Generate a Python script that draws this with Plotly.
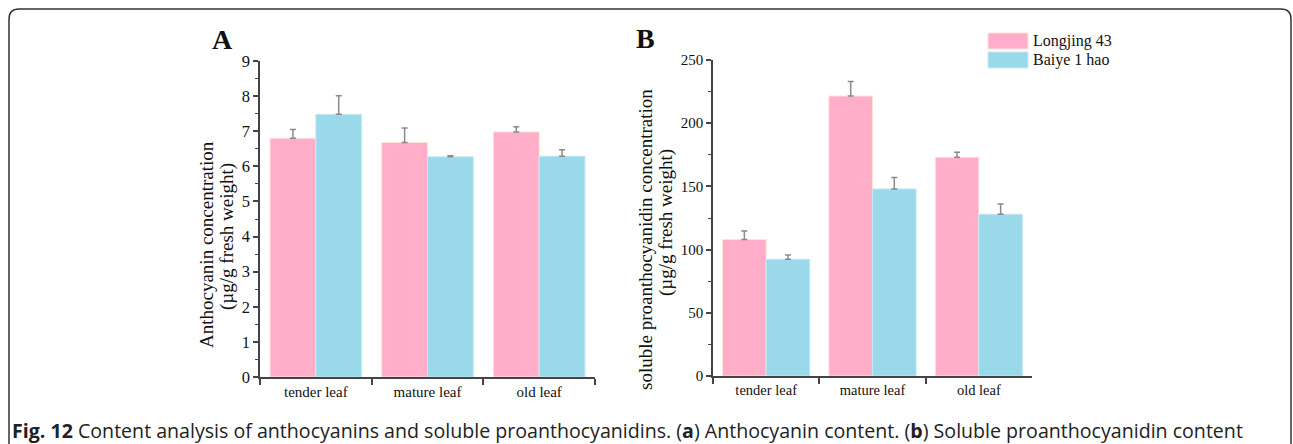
import plotly.graph_objects as go

W, H = 1293, 444

categories = ["tender leaf", "mature leaf", "old leaf"]
series_names = ["Longjing 43", "Baiye 1 hao"]

# Panel A: anthocyanin concentration (µg/g fresh weight)
antho_longjing = [6.80, 6.68, 6.98]
antho_longjing_err = [0.25, 0.41, 0.15]
antho_baiye = [7.48, 6.27, 6.29]
antho_baiye_err = [0.53, 0.03, 0.18]

# Panel B: soluble proanthocyanidin concentration (µg/g fresh weight)
pa_longjing = [108, 221.5, 173]
pa_longjing_err = [6.7, 11.5, 4]
pa_baiye = [92.3, 148, 128]
pa_baiye_err = [3.5, 9, 8]

colors = ["#FFADC8", "#9AD9EA"]
edge_colors = ["#FFE3D8", "#C2EAF4"]

def px(x):
    return x / W

def py(y):
    return 1 - y / H

fig = go.Figure()

panels = [
    ("x", "y", [antho_longjing, antho_baiye], [antho_longjing_err, antho_baiye_err]),
    ("x2", "y2", [pa_longjing, pa_baiye], [pa_longjing_err, pa_baiye_err]),
]
for xa, ya, vals, errs in panels:
    for i in range(2):
        fig.add_trace(go.Bar(
            x=categories, y=vals[i], name=series_names[i],
            xaxis=xa, yaxis=ya, offsetgroup=str(i),
            marker=dict(color=colors[i], line=dict(color=edge_colors[i], width=1)),
            error_y=dict(type="data", array=errs[i], arrayminus=[0] * len(errs[i]),
                         symmetric=False, color="#8A8A8A", thickness=1.5, width=3),
            showlegend=False,
        ))

serif = "Liberation Serif, Times New Roman, serif"
axis_common = dict(
    showline=True, linecolor="#444", linewidth=1.5, mirror=False,
    showgrid=False, zeroline=False, automargin=False,
)

def tf(size):
    return dict(family=serif, size=size, color="#111")

fig.update_layout(
    template="none",
    width=W, height=H, autosize=False,
    margin=dict(l=0, r=0, t=0, b=0, pad=0),
    paper_bgcolor="white", plot_bgcolor="white",
    showlegend=False,
    barmode="group", bargap=0.18, bargroupgap=0,
    xaxis=dict(domain=[px(260), px(595)], anchor="y", type="category",
               range=[-0.5, 2.5], tickson="boundaries", ticks="outside",
               ticklen=6, tickcolor="#444", tickwidth=1.5, tickfont=tf(15), **axis_common),
    yaxis=dict(domain=[py(377), py(61)], anchor="x", range=[0, 9], dtick=1,
               ticks="outside", ticklen=5, tickcolor="#444", tickwidth=1.5, tickfont=tf(16.5),
               minor=dict(dtick=0.5, ticks="outside", ticklen=3, tickcolor="#444", tickwidth=1),
               **axis_common),
    xaxis2=dict(domain=[px(713), px(1032)], anchor="y2", type="category",
                range=[-0.5, 2.5], tickson="boundaries", ticks="outside",
                ticklen=6, tickcolor="#444", tickwidth=1.5, tickfont=tf(14.5), **axis_common),
    yaxis2=dict(domain=[py(376), py(60)], anchor="x2", range=[0, 250], dtick=50,
                ticks="outside", ticklen=5, tickcolor="#444", tickwidth=1.5, tickfont=tf(15),
                minor=dict(dtick=25, ticks="outside", ticklen=3, tickcolor="#444", tickwidth=1),
                **axis_common),
)

annotations = []
def ann(text, x, y, size, family=serif, angle=0, bold=False, color="#111", xanchor="center"):
    annotations.append(dict(
        text=f"<b>{text}</b>" if bold else text, x=px(x), y=py(y),
        xref="paper", yref="paper", showarrow=False, textangle=angle,
        xanchor=xanchor, yanchor="middle",
        font=dict(family=family, size=size, color=color),
    ))

ann("A", 222, 40, 28, bold=True)
ann("B", 645, 38, 28, bold=True)
ann("Anthocyanin concentration", 206, 245, 19, angle=-90)
ann("(µg/g fresh weight)", 227, 236, 19, angle=-90)
ann("soluble proanthocyanidin concentration", 645, 240, 19, angle=-90)
ann("(µg/g fresh weight)", 666, 222, 19, angle=-90)

# Legend (manual swatches)
shapes = []
legend_rows = [41, 60]
for i, name in enumerate(series_names):
    yc = legend_rows[i]
    shapes.append(dict(type="rect", xref="paper", yref="paper",
                       x0=px(988), x1=px(1028), y0=py(yc - 8), y1=py(yc + 8),
                       fillcolor=colors[i], line=dict(color=edge_colors[i], width=1)))
    ann(name, 1031, yc, 16, xanchor="left")

# Caption
ann("<b>Fig. 12</b> Content analysis of anthocyanins and soluble proanthocyanidins. "
    "(<b>a</b>) Anthocyanin content. (<b>b</b>) Soluble proanthocyanidin content",
    10, 430, 19.6, family="Open Sans, sans-serif", color="#222", xanchor="left")

# Rounded frame
x0, x1, y0, y1, r = 9, 1291, 9, 470, 10
path = (f"M {px(x0)},{py(y1)} L {px(x0)},{py(y0 + r)} "
        f"Q {px(x0)},{py(y0)} {px(x0 + r)},{py(y0)} "
        f"L {px(x1 - r)},{py(y0)} Q {px(x1)},{py(y0)} {px(x1)},{py(y0 + r)} "
        f"L {px(x1)},{py(y1)}")
shapes.append(dict(type="path", xref="paper", yref="paper", path=path,
                   line=dict(color="#333", width=1.5)))

fig.update_layout(annotations=annotations, shapes=shapes)

fig.write_html("out.html")
